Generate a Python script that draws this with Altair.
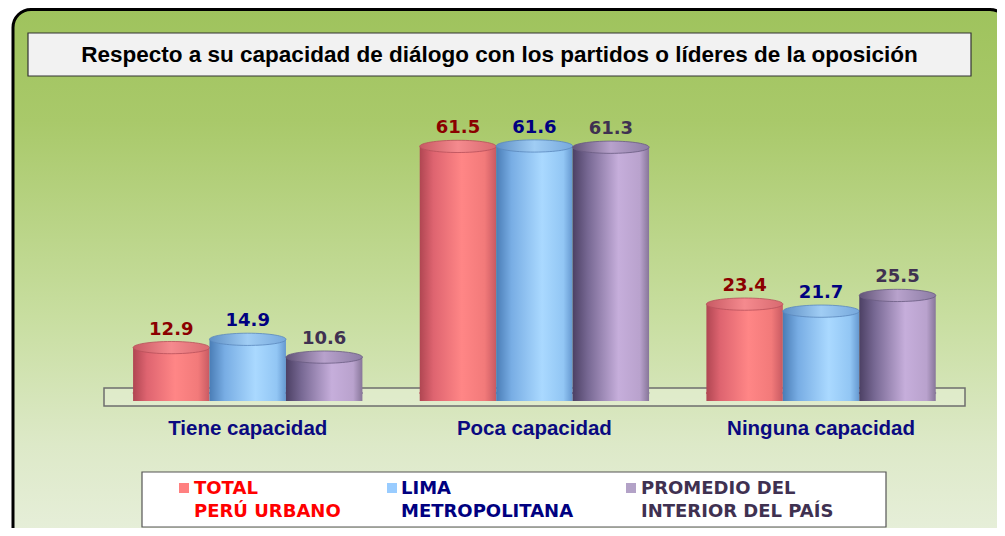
import altair as alt
import pandas as pd

# ---- data ----
categories = ["Tiene capacidad", "Poca capacidad", "Ninguna capacidad"]
series = ["TOTAL PERÚ URBANO", "LIMA METROPOLITANA", "PROMEDIO DEL INTERIOR DEL PAÍS"]
legend_line1 = ["TOTAL", "LIMA", "PROMEDIO DEL"]
legend_line2 = ["PERÚ URBANO", "METROPOLITANA", "INTERIOR DEL PAÍS"]
total_peru_urbano = [12.9, 61.5, 23.4]
lima_metropolitana = [14.9, 61.6, 21.7]
promedio_interior = [10.6, 61.3, 25.5]
title_text = "Respecto a su capacidad de diálogo con los partidos o líderes de la oposición"

values = [total_peru_urbano, lima_metropolitana, promedio_interior]
rows = []
for s, vals in zip(series, values):
    for c, v in zip(categories, vals):
        rows.append({"categoria": c, "serie": s, "valor": v})
df = pd.DataFrame(rows)
one = pd.DataFrame({"k": [0]})

W, H = 989, 520

# ---- styles ----
def hgrad(stops):
    return {"gradient": "linear", "x1": 0, "x2": 1, "y1": 0, "y2": 0,
            "stops": [{"offset": o, "color": c} for o, c in stops]}

def vgrad(stops):
    return {"gradient": "linear", "x1": 0, "x2": 0, "y1": 0, "y2": 1,
            "stops": [{"offset": o, "color": c} for o, c in stops]}

body_grads = [
    hgrad([(0, "#b04652"), (0.18, "#de6470"), (0.55, "#ff8686"), (0.85, "#f27a7a"), (1, "#c85a62")]),
    hgrad([(0, "#4a7db6"), (0.2, "#78ade4"), (0.6, "#aad9ff"), (0.88, "#92c6f4"), (1, "#6598d0")]),
    hgrad([(0, "#4c4064"), (0.2, "#776893"), (0.6, "#c6aedb"), (0.88, "#b9a2cd"), (1, "#877699")]),
]
top_grads = [
    hgrad([(0, "#c85a64"), (0.5, "#f58a8e"), (1, "#d86a70")]),
    hgrad([(0, "#5f90c6"), (0.5, "#a0cdf4"), (1, "#76a8dc")]),
    hgrad([(0, "#625478"), (0.5, "#b8a2cc"), (1, "#8c7ca4")]),
]
edge_cols = ["#b8505a", "#5a88bc", "#6a5c82"]
label_cols = ["#8b0000", "#000080", "#3f3151"]
legend_sq = ["#ff8080", "#99ccff", "#b3a2c7"]
legend_txt = ["#ff0000", "#000080", "#3f3151"]
legend_sq_x = [176, 384, 623]
legend_tx_x = [186, 393, 633]

bar_w = 76.5
ellipse = "M -1 0 A 1 0.16 0 1 1 1 0 A 1 0.16 0 1 1 -1 0 Z"
ell_size = bar_w * bar_w
base_y = 385

xenc = alt.X("categoria:N", sort=categories, axis=None,
             scale=alt.Scale(range=[96.4, 956.4], paddingInner=0.2, paddingOuter=0.1))
xoff = alt.XOffset("serie:N", sort=series,
                   scale=alt.Scale(domain=series, paddingInner=0, paddingOuter=0))
yenc = alt.Y("valor:Q", axis=None,
             scale=alt.Scale(domain=[0, 94.93], range=[393, 0], nice=False, zero=False))

layers = []

# background panel
layers.append(alt.Chart(one).mark_rect(
    fill=vgrad([(0, "#9fc35d"), (0.2, "#a9c96a"), (0.55, "#c8dea0"), (0.78, "#dde9c8"), (1, "#eaf1e0")]),
    stroke="#000000", strokeWidth=3, cornerRadius=18
).encode(x=alt.value(5), x2=alt.value(1000), y=alt.value(1.5), y2=alt.value(560)))

# title box
layers.append(alt.Chart(one).mark_rect(fill="#f2f2f2", stroke="#333333", strokeWidth=1.2).encode(
    x=alt.value(20), x2=alt.value(963), y=alt.value(25), y2=alt.value(68)))
layers.append(alt.Chart(one).mark_text(
    text=title_text, font="Liberation Sans", fontWeight="bold", fontSize=22.5,
    color="#000000", align="center", baseline="alphabetic"
).encode(x=alt.value(491.5), y=alt.value(54)))

# floor
layers.append(alt.Chart(one).mark_rect(fill="#ffffff", fillOpacity=0.25, stroke="#6e6e6e", strokeWidth=1.5).encode(
    x=alt.value(96), x2=alt.value(957), y=alt.value(380), y2=alt.value(398)))

# cylinders
for i, s in enumerate(series):
    b = alt.Chart(df).transform_filter(alt.datum.serie == s)
    layers.append(b.mark_point(shape=ellipse, size=ell_size, filled=True, opacity=1,
                               fill=body_grads[i], stroke=edge_cols[i], strokeWidth=0.6).encode(
        x=xenc, xOffset=xoff, y=alt.value(base_y)))
    layers.append(b.mark_bar(fill=body_grads[i], opacity=1).encode(
        x=xenc, xOffset=xoff, y=yenc, y2=alt.value(base_y)))
    layers.append(b.mark_point(shape=ellipse, size=ell_size, filled=True, opacity=1,
                               fill=top_grads[i], stroke=edge_cols[i], strokeWidth=0.8).encode(
        x=xenc, xOffset=xoff, y=yenc))
    layers.append(b.mark_text(font="DejaVu Sans", fontWeight="bold", fontSize=18, dy=-13,
                              color=label_cols[i], align="center", baseline="alphabetic").encode(
        x=xenc, xOffset=xoff, y=yenc, text=alt.Text("valor:Q", format=".1f")))

# category labels
cat_df = pd.DataFrame({"categoria": categories})
layers.append(alt.Chart(cat_df).mark_text(
    font="Liberation Sans", fontWeight="bold", fontSize=20.5, color="#0a0a80",
    align="center", baseline="alphabetic"
).encode(x=xenc, y=alt.value(427), text="categoria:N"))

# legend
layers.append(alt.Chart(one).mark_rect(fill="#ffffff", stroke="#555555", strokeWidth=1.2).encode(
    x=alt.value(134), x2=alt.value(878), y=alt.value(464), y2=alt.value(519)))
for i in range(3):
    layers.append(alt.Chart(one).mark_point(shape="square", size=100, filled=True, opacity=1,
                                            fill=legend_sq[i], stroke=None).encode(
        x=alt.value(legend_sq_x[i]), y=alt.value(480)))
    for line, yy in ((legend_line1[i], 486), (legend_line2[i], 509)):
        layers.append(alt.Chart(one).mark_text(
            text=line, font="DejaVu Sans", fontWeight="bold", fontSize=18,
            color=legend_txt[i], align="left", baseline="alphabetic"
        ).encode(x=alt.value(legend_tx_x[i]), y=alt.value(yy)))

chart = alt.layer(*layers).properties(
    width=W, height=H, background="#ffffff", padding=0,
    autosize=alt.AutoSizeParams(type="none")
).configure_view(stroke=None)

chart.save("out.html", embed_options={"renderer": "svg", "actions": False})
